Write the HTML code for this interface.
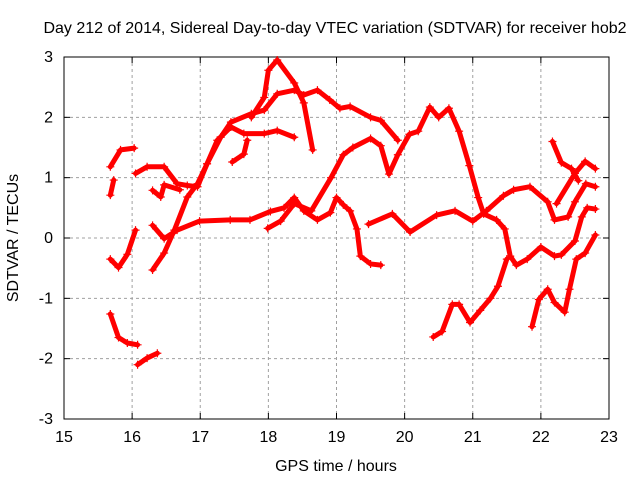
<!DOCTYPE html>
<html><head><meta charset="utf-8"><style>
body{margin:0;background:#fff}
svg text{font-family:"Liberation Sans",sans-serif;font-size:16px;fill:#000}
</style></head><body>
<svg id="c" width="640" height="480">
<rect width="640" height="480" fill="#fff"/>
<g id="grid"></g><g id="axes"></g><g id="plot"></g>
<text x="335" y="33" text-anchor="middle">Day 212 of 2014, Sidereal Day-to-day VTEC variation (SDTVAR) for receiver hob2</text>
<text x="336" y="471" text-anchor="middle">GPS time / hours</text>
<text transform="translate(18,238) rotate(-90)" text-anchor="middle">SDTVAR / TECUs</text>
</svg>
<script>
const xTicks=[15,16,17,18,19,20,21,22,23];
const yTicks=[-3,-2,-1,0,1,2,3];
const s1=[[15.68,1.18],[15.83,1.46],[16.03,1.49]];
const s2=[[15.68,0.71],[15.73,0.96]];
const s3=[[15.68,-0.35],[15.8,-0.49],[15.93,-0.27],[16.05,0.13]];
const s4=[[15.68,-1.26],[15.8,-1.65],[15.93,-1.74],[16.08,-1.77]];
const s5=[[16.08,-2.1],[16.22,-1.99],[16.37,-1.91]];
const s6=[[16.3,0.79],[16.42,0.68],[16.47,0.88],[16.7,0.8]];
const s7=[[16.05,1.07],[16.22,1.18],[16.47,1.18],[16.66,0.9],[16.81,0.87],[16.96,0.85],[17.1,1.23],[17.3,1.67],[17.45,1.92],[17.75,2.06],[17.94,2.12],[18.13,2.39],[18.38,2.45],[18.52,2.37],[18.72,2.45],[18.9,2.29],[19.05,2.15],[19.2,2.18],[19.5,2.0],[19.65,1.95],[19.9,1.62]];
const s8=[[17.75,2.0],[17.94,2.33],[18.0,2.78],[18.13,2.95],[18.38,2.57],[18.52,2.24],[18.65,1.46]];
const s9=[[16.3,-0.53],[16.47,-0.25],[16.62,0.13],[16.81,0.68],[16.96,0.9],[17.1,1.23],[17.25,1.62],[17.45,1.84],[17.64,1.73],[17.94,1.73],[18.13,1.78],[18.38,1.67]];
const s10=[[17.47,1.26],[17.64,1.39],[17.69,1.62]];
const s11=[[16.3,0.21],[16.47,-0.01],[16.66,0.13],[16.99,0.28],[17.44,0.3],[17.73,0.3],[18.03,0.44],[18.23,0.5],[18.38,0.67],[18.52,0.45],[18.72,0.3],[18.91,0.42],[19.0,0.67],[19.1,0.55],[19.2,0.45],[19.3,0.15],[19.35,-0.3],[19.5,-0.43],[19.65,-0.45]];
const s12=[[17.99,0.16],[18.18,0.28],[18.38,0.57],[18.63,0.45],[18.92,1.0],[19.1,1.38],[19.24,1.5],[19.5,1.65],[19.65,1.53],[19.77,1.06],[19.9,1.38],[20.07,1.72],[20.2,1.77],[20.37,2.17],[20.5,2.0],[20.65,2.15],[20.8,1.77],[20.95,1.2],[21.08,0.67],[21.16,0.4],[21.35,0.3],[21.47,0.15],[21.55,-0.3],[21.64,-0.45],[21.8,-0.35],[22.0,-0.15],[22.2,-0.3],[22.3,-0.28],[22.5,-0.05],[22.6,0.35],[22.68,0.5],[22.8,0.48]];
const s13=[[19.47,0.23],[19.82,0.4],[20.08,0.1],[20.47,0.38],[20.74,0.45],[21.0,0.28],[21.2,0.45],[21.45,0.7],[21.6,0.8],[21.84,0.85],[22.1,0.6],[22.2,0.3],[22.4,0.35],[22.5,0.6],[22.66,0.9],[22.8,0.85]];
const s14=[[20.42,-1.64],[20.55,-1.55],[20.7,-1.1],[20.8,-1.1],[20.96,-1.4],[21.11,-1.2],[21.26,-1.0],[21.37,-0.8],[21.5,-0.35]];
const s15=[[21.87,-1.47],[21.97,-1.02],[22.1,-0.85],[22.2,-1.07],[22.35,-1.23],[22.42,-0.85],[22.52,-0.35],[22.65,-0.25],[22.8,0.05]];
const s16=[[22.17,1.6],[22.3,1.25],[22.45,1.15],[22.55,0.95]];
const s17=[[22.23,0.57],[22.5,1.07],[22.65,1.27],[22.8,1.15]];
const series=[s1,s2,s3,s4,s5,s6,s7,s8,s9,s10,s11,s12,s13,s14,s15,s16,s17];
const X=v=>64+(v-15)*(609-64)/8, Y=v=>419-(v+3)*(419-57)/6;
const NS='http://www.w3.org/2000/svg';
function mk(t,a,p){const e=document.createElementNS(NS,t);for(const k in a)e.setAttribute(k,a[k]);p.appendChild(e);return e;}
const grid=document.getElementById('grid'),axes=document.getElementById('axes'),plot=document.getElementById('plot');
xTicks.forEach(t=>{const x=X(t);
 if(t>15&&t<23){const g=mk('line',{x1:x,x2:x,y1:57,y2:419,stroke:'#a0a0a0','stroke-dasharray':'3,3'},grid);}
 mk('line',{x1:x,x2:x,y1:419,y2:413,stroke:'#000'},axes);mk('line',{x1:x,x2:x,y1:57,y2:63,stroke:'#000'},axes);
 const l=mk('text',{x:x,y:442,'text-anchor':'middle'},axes);l.textContent=t;
 });
yTicks.forEach(t=>{const y=Y(t);
 if(t>-3&&t<3){const g=mk('line',{x1:64,x2:609,y1:y,y2:y,stroke:'#a0a0a0','stroke-dasharray':'3,3'},grid);}
 mk('line',{x1:64,x2:70,y1:y,y2:y,stroke:'#000'},axes);mk('line',{x1:603,x2:609,y1:y,y2:y,stroke:'#000'},axes);
 const l=mk('text',{x:53,y:y+5,'text-anchor':'end'},axes);l.textContent=t;
 });
const fr=mk('rect',{x:64,y:57,width:545,height:362,fill:'none',stroke:'#000'},axes);

series.forEach((s,i)=>{
 const pl=mk('polyline',{points:s.map(p=>X(p[0])+','+Y(p[1])).join(' '),fill:'none',stroke:'#f00','stroke-width':5,'stroke-linejoin':'round','stroke-linecap':'round'},plot);
 
 
 s.forEach(p=>{const x=X(p[0]),y=Y(p[1]);
  const m=mk('path',{d:`M${x-4},${y}H${x+4}M${x},${y-4}V${y+4}`,stroke:'#f00','stroke-width':1.2},plot);
  
  });
});
</script>
</body></html>
